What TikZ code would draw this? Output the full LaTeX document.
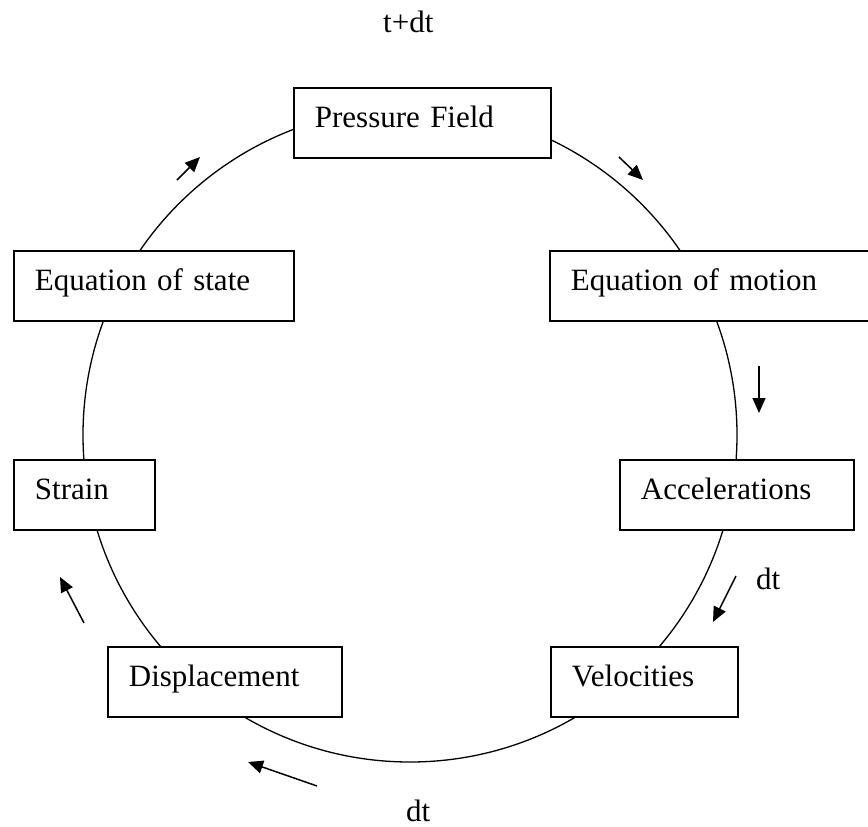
\documentclass[tikz,border=0pt]{standalone}
\usepackage{fontspec}
\setmainfont{Liberation Serif}
\usetikzlibrary{arrows.meta}
\tikzset{
  txt/.style={font=\fontsize{31}{37}\selectfont, inner sep=0pt},
  stagebox/.style={draw, line width=1.8pt, fill=white, font=\fontsize{31}{37}\selectfont,
    inner xsep=21pt, inner ysep=0pt, text height=40pt, text depth=30pt,
    align=left, anchor=north west},
  ring/.style={line width=1.3pt},
  flow/.style={line width=1.5pt, -{Triangle[length=15pt,width=13pt]}}
}
\begin{document}
\begin{tikzpicture}[x=1pt,y=-1pt]
\useasboundingbox (0,0) rectangle (868,827);
\coordinate (c) at (410,435);
\draw[ring] (c) circle[radius=327pt];
\node[stagebox, text width=215pt] (pf) at (293,87) {Pressure Field};
\node[stagebox, text width=238pt] (eos) at (13,250) {Equation of state};
\node[stagebox, text width=280pt] (eom) at (549,250) {Equation of motion};
\node[stagebox, text width=99pt] (str) at (13,459) {Strain};
\node[stagebox, text width=192pt] (acc) at (619,459) {Accelerations};
\node[stagebox, text width=192pt] (dis) at (107,646) {Displacement};
\node[stagebox, text width=145pt] (vel) at (550,646) {Velocities};
\node[txt, anchor=base west] (ttop) at (383,32) {t+dt};
\node[txt, anchor=base west] (dtr) at (756,589) {dt};
\node[txt, anchor=base west] (dtb) at (406,821) {dt};
\coordinate (a1s) at (177,180); \coordinate (a1e) at (200,157);
\coordinate (a2s) at (619,157); \coordinate (a2e) at (643,180);
\coordinate (a3s) at (759,366); \coordinate (a3e) at (759,413);
\coordinate (a4s) at (736,576); \coordinate (a4e) at (713,622);
\coordinate (a5s) at (317,786); \coordinate (a5e) at (248,762);
\coordinate (a6s) at (84,623);  \coordinate (a6e) at (60,577);
\draw[flow] (a1s) -- (a1e);
\draw[flow] (a2s) -- (a2e);
\draw[flow] (a3s) -- (a3e);
\draw[flow] (a4s) -- (a4e);
\draw[flow] (a5s) -- (a5e);
\draw[flow] (a6s) -- (a6e);
\end{tikzpicture}
\end{document}
